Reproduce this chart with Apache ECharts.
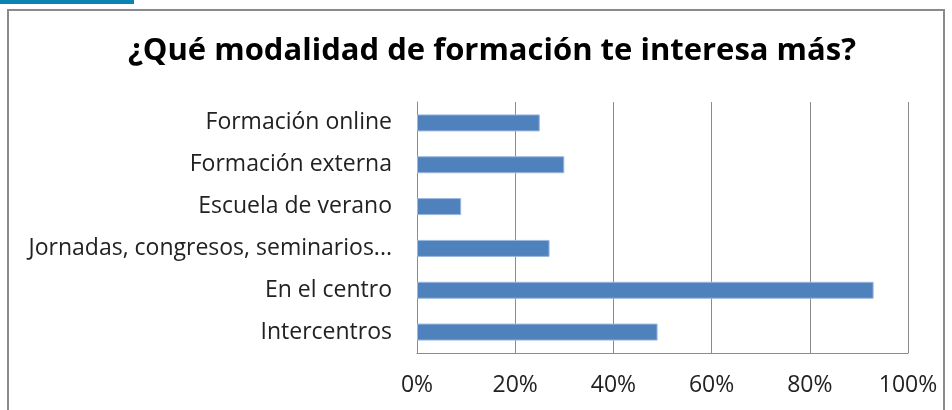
<!DOCTYPE html>
<html>
<head>
<meta charset="utf-8">
<script src="https://cdn.jsdelivr.net/npm/echarts@6/dist/echarts.min.js"></script>
<style>
  html, body { margin: 0; padding: 0; background: #fff; }
  #chart { width: 952px; height: 410px; }
</style>
</head>
<body>
<div id="chart"></div>
<script>
// 数据
var categories = ['Formación online', 'Formación externa', 'Escuela de verano', 'Jornadas, congresos, seminarios...', 'En el centro', 'Intercentros'];
var values = [25, 30, 9, 27, 93, 49];
var tickLabels = ['0%', '20%', '40%', '60%', '80%', '100%'];

(function () {
  var myChart = echarts.init(document.getElementById('chart'));
  var option = {
    animation: false,
    textStyle: { fontFamily: 'Open Sans' },
    title: {
      text: '¿Qué modalidad de formación te interesa más?',
      left: 487,
      textAlign: 'center',
      top: 31,
      textStyle: { fontSize: 31, fontWeight: 'bold', color: '#000', fontFamily: 'Open Sans' }
    },
    // 外框和左上角蓝条
    graphic: [
      { type: 'rect', shape: { x: 0, y: 0, width: 134, height: 4 }, style: { fill: '#0b84b3' } },
      { type: 'rect', shape: { x: 8, y: 10, width: 936, height: 420 }, style: { fill: 'none', stroke: '#8a8a8a', lineWidth: 2 } }
    ],
    grid: { left: 417, right: 44, top: 102, bottom: 57 },
    xAxis: {
      type: 'value',
      min: 0,
      max: 100,
      interval: 20,
      axisLine: { show: true, lineStyle: { color: '#8c8c8c' } },
      axisTick: { show: false },
      splitLine: { lineStyle: { color: '#8c8c8c' } },
      axisLabel: {
        margin: 21,
        fontSize: 23,
        color: '#222',
        formatter: function (v) { return tickLabels[v / 20]; }
      }
    },
    yAxis: {
      type: 'category',
      inverse: true,
      data: categories,
      axisLine: { show: true, lineStyle: { color: '#8c8c8c' } },
      axisTick: { show: false },
      axisLabel: { margin: 25, fontSize: 23, color: '#222' }
    },
    series: [
      {
        type: 'bar',
        data: values,
        barWidth: 17,
        itemStyle: { color: '#4f81bd', borderColor: '#9bb8e0', borderWidth: 1 }
      }
    ]
  };
  myChart.setOption(option);
})();
</script>
</body>
</html>
